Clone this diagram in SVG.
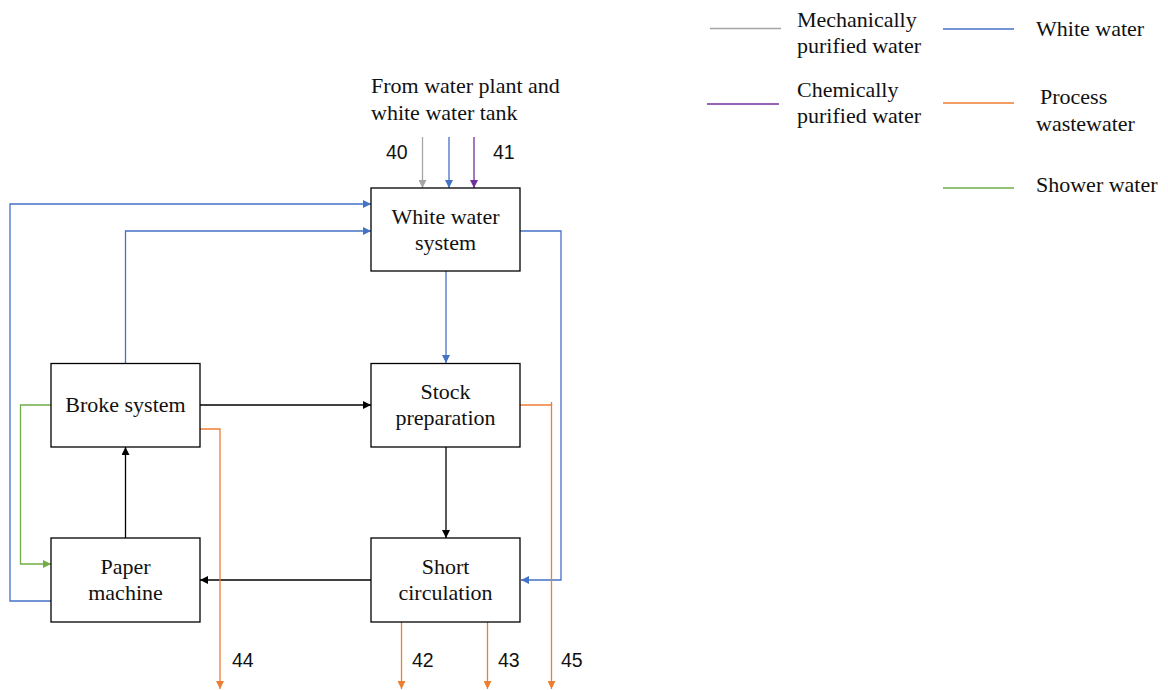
<svg xmlns="http://www.w3.org/2000/svg" width="1168" height="690" viewBox="0 0 1168 690">
  <style>
    .box { fill: #fff; stroke: #000; stroke-width: 1.3; }
    .lbl { font-family: "Liberation Serif", "Times New Roman", serif; font-size: 22px; fill: #111; }
    .num { font-family: "Liberation Sans", Arial, sans-serif; font-size: 19.5px; fill: #111; }
    .c { fill: none; stroke-width: 1.3; }
    .k { stroke: #000; }
    .b { stroke: #4472C4; }
    .o { stroke: #ED7D31; }
    .g { stroke: #70AD47; }
    .gr { stroke: #A5A5A5; }
    .p { stroke: #7030A0; }
  </style>
  <defs>
    <marker id="ak" viewBox="0 0 10 10" refX="10" refY="5" markerWidth="8" markerHeight="8" markerUnits="userSpaceOnUse" orient="auto"><path d="M0,0 L10,5 L0,10 z" fill="#000"/></marker>
    <marker id="ab" viewBox="0 0 10 10" refX="10" refY="5" markerWidth="8" markerHeight="8" markerUnits="userSpaceOnUse" orient="auto"><path d="M0,0 L10,5 L0,10 z" fill="#4472C4"/></marker>
    <marker id="ao" viewBox="0 0 10 10" refX="10" refY="5" markerWidth="8" markerHeight="8" markerUnits="userSpaceOnUse" orient="auto"><path d="M0,0 L10,5 L0,10 z" fill="#ED7D31"/></marker>
    <marker id="ag" viewBox="0 0 10 10" refX="10" refY="5" markerWidth="8" markerHeight="8" markerUnits="userSpaceOnUse" orient="auto"><path d="M0,0 L10,5 L0,10 z" fill="#70AD47"/></marker>
    <marker id="agr" viewBox="0 0 10 10" refX="10" refY="5" markerWidth="8" markerHeight="8" markerUnits="userSpaceOnUse" orient="auto"><path d="M0,0 L10,5 L0,10 z" fill="#A5A5A5"/></marker>
    <marker id="ap" viewBox="0 0 10 10" refX="10" refY="5" markerWidth="8" markerHeight="8" markerUnits="userSpaceOnUse" orient="auto"><path d="M0,0 L10,5 L0,10 z" fill="#7030A0"/></marker>
  </defs>

  <!-- legend -->
  <g id="legend">
    <line class="c gr" x1="710" y1="28.5" x2="781" y2="28.5"/>
    <text class="lbl" x="797" y="27">Mechanically</text>
    <text class="lbl" x="797" y="53">purified water</text>
    <line class="c p" x1="707" y1="104" x2="779" y2="104"/>
    <text class="lbl" x="797" y="97">Chemically</text>
    <text class="lbl" x="797" y="123">purified water</text>
    <line class="c b" x1="943" y1="29" x2="1014" y2="29"/>
    <text class="lbl" x="1036" y="36">White water</text>
    <line class="c o" x1="943" y1="103" x2="1014" y2="103"/>
    <text class="lbl" x="1040" y="104">Process</text>
    <text class="lbl" x="1036" y="131">wastewater</text>
    <line class="c g" x1="943" y1="188" x2="1014" y2="188"/>
    <text class="lbl" x="1036" y="192">Shower water</text>
  </g>

  <!-- connectors -->
  <g id="connectors">
    <line class="c gr" x1="422.5" y1="137" x2="422.5" y2="188" marker-end="url(#agr)"/>
    <line class="c b" x1="449" y1="137" x2="449" y2="188" marker-end="url(#ab)"/>
    <line class="c p" x1="474" y1="137" x2="474" y2="188" marker-end="url(#ap)"/>
    <polyline class="c b" points="51,601 10,601 10,204 371,204" marker-end="url(#ab)"/>
    <polyline class="c b" points="125.5,363 125.5,231 371,231" marker-end="url(#ab)"/>
    <polyline class="c b" points="520,231 561,231 561,580 521,580" marker-end="url(#ab)"/>
    <line class="c b" x1="446" y1="271" x2="446" y2="363" marker-end="url(#ab)"/>
    <line class="c k" x1="200" y1="405" x2="371" y2="405" marker-end="url(#ak)"/>
    <line class="c k" x1="446" y1="447" x2="446" y2="538" marker-end="url(#ak)"/>
    <line class="c k" x1="371" y1="580" x2="200" y2="580" marker-end="url(#ak)"/>
    <line class="c k" x1="125.5" y1="538" x2="125.5" y2="447" marker-end="url(#ak)"/>
    <polyline class="c g" points="51,405 20.5,405 20.5,564 51,564" marker-end="url(#ag)"/>
    <polyline class="c o" points="200,429 220,429 220,689" marker-end="url(#ao)"/>
    <polyline class="c o" points="520,405 551.5,405 551.5,689" marker-end="url(#ao)"/>
    <line class="c o" x1="551.5" y1="402" x2="551.5" y2="405"/>
    <line class="c o" x1="401.5" y1="622" x2="401.5" y2="689" marker-end="url(#ao)"/>
    <line class="c o" x1="487.5" y1="622" x2="487.5" y2="689" marker-end="url(#ao)"/>
  </g>

  <!-- stream labels -->
  <g id="stream-labels">
    <text class="lbl" x="371" y="93">From water plant and</text>
    <text class="lbl" x="371" y="120">white water tank</text>
    <text class="num" x="386" y="159">40</text>
    <text class="num" x="493" y="159">41</text>
    <text class="num" x="232" y="667">44</text>
    <text class="num" x="412" y="667">42</text>
    <text class="num" x="498" y="667">43</text>
    <text class="num" x="561" y="667">45</text>
  </g>

  <g id="white-water-system">
    <rect class="box" x="371" y="188" width="149" height="83"/>
    <text class="lbl" x="445.5" y="224" text-anchor="middle">White water</text>
    <text class="lbl" x="445.5" y="250" text-anchor="middle">system</text>
  </g>
  <g id="broke-system">
    <rect class="box" x="51" y="363.5" width="149" height="83.5"/>
    <text class="lbl" x="125.5" y="412" text-anchor="middle">Broke system</text>
  </g>
  <g id="stock-preparation">
    <rect class="box" x="371" y="363.5" width="149" height="83.5"/>
    <text class="lbl" x="445.5" y="399" text-anchor="middle">Stock</text>
    <text class="lbl" x="445.5" y="425" text-anchor="middle">preparation</text>
  </g>
  <g id="paper-machine">
    <rect class="box" x="51" y="538" width="149" height="84"/>
    <text class="lbl" x="125.5" y="574" text-anchor="middle">Paper</text>
    <text class="lbl" x="125.5" y="600" text-anchor="middle">machine</text>
  </g>
  <g id="short-circulation">
    <rect class="box" x="371" y="538" width="149" height="84"/>
    <text class="lbl" x="445.5" y="574" text-anchor="middle">Short</text>
    <text class="lbl" x="445.5" y="600" text-anchor="middle">circulation</text>
  </g>
</svg>
